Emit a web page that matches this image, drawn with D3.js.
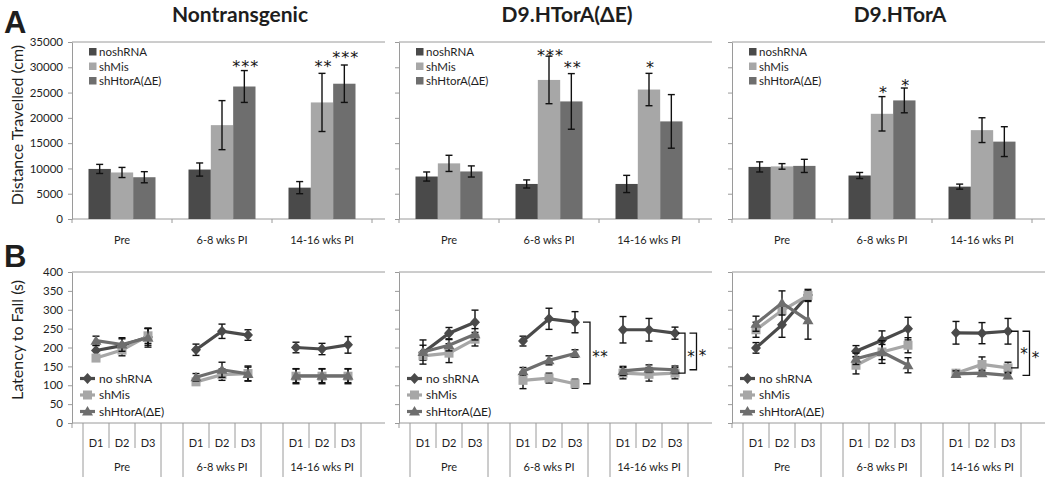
<!DOCTYPE html>
<html><head><meta charset="utf-8">
<script src="https://cdn.jsdelivr.net/npm/d3@7"></script>
<style>
body{margin:0;background:#fff}
text{font-family:Lato,"Open Sans",sans-serif;fill:#1e1e1e}
.star{font-family:"DejaVu Sans",sans-serif;fill:#111}
.stars{opacity:0.99;transform:rotate(0.001deg)}
</style>
</head><body><svg id="c" width="1050" height="483"></svg>
<script>
// ---------- data ----------
const panelTitles = ["Nontransgenic", "D9.HTorA(ΔE)", "D9.HTorA"];
const timepoints = ["Pre", "6-8 wks PI", "14-16 wks PI"];
const days = ["D1", "D2", "D3"];
const barSeries = ["noshRNA", "shMis", "shHtorA(ΔE)"];
const lineSeries = ["no shRNA", "shMis", "shHtorA(ΔE)"];
const distTicks = [0, 5000, 10000, 15000, 20000, 25000, 30000, 35000];
const latTicks = [0, 50, 100, 150, 200, 250, 300, 350, 400];

// Distance travelled (cm): rows = series, cols = timepoints
const distNontg    = [[9900, 9780, 6200], [9200, 18560, 23050], [8260, 26200, 26750]];
const distNontgErr = [[900, 1300, 1200], [1000, 4850, 5750], [1100, 3150, 3700]];
const distDE       = [[8400, 6930, 6930], [11000, 27500, 25600], [9400, 23250, 19300]];
const distDEErr    = [[900, 800, 1700], [1600, 4700, 3200], [1100, 5500, 5300]];
const distHT       = [[10300, 8600, 6400], [10400, 20800, 17570], [10500, 23450, 15300]];
const distHTErr    = [[1000, 600, 500], [550, 3400, 2450], [1300, 2450, 2950]];

// significance stars on bars: [panel, timepoint, series, label, value level]
const distStars = [
  [0, 1, 2, "***", 31000], [0, 2, 1, "**", 31000], [0, 2, 2, "***", 32800],
  [1, 1, 1, "***", 33200], [1, 1, 2, "**", 30800], [1, 2, 1, "*", 30800],
  [2, 1, 1, "*", 25900], [2, 1, 2, "*", 27300]
];

// Latency to fall (s): rows = series, cols = Pre D1-D3, 6-8 D1-D3, 14-16 D1-D3
const latNontg    = [[192, 205, 228, 194, 243, 233, 200, 196, 207],
                     [172, 193, 231, 109, 128, 131, 124, 124, 124],
                     [218, 208, 226, 121, 141, 130, 125, 125, 125]];
const latNontgErr = [[13, 18, 22, 15, 19, 14, 14, 15, 22],
                     [8, 15, 20, 8, 15, 20, 20, 20, 20],
                     [12, 18, 25, 10, 20, 18, 18, 18, 18]];
const latDE       = [[186, 238, 267, 217, 276, 267, 247, 247, 238],
                     [178, 185, 222, 113, 119, 104, 132, 129, 132],
                     [188, 206, 235, 137, 166, 184, 138, 144, 141]];
const latDEErr    = [[20, 15, 32, 13, 28, 28, 35, 30, 16],
                     [10, 25, 18, 22, 13, 12, 15, 18, 15],
                     [32, 15, 15, 10, 12, 10, 12, 10, 10]];
const latHT       = [[199, 260, 339, 190, 219, 250, 239, 238, 243],
                     [247, 298, 338, 153, 188, 206, 132, 155, 146],
                     [263, 318, 272, 170, 188, 153, 130, 132, 126]];
const latHTErr    = [[14, 33, 15, 15, 25, 30, 30, 28, 34],
                     [20, 10, 12, 23, 20, 20, 8, 20, 15],
                     [20, 32, 50, 15, 30, 20, 8, 8, 8]];

// brackets: [panel, timepoint, upper series, lower series, label]
const latBrackets = [
  [1, 1, 0, 1, "**"],
  [1, 2, 0, 1, "*"], [1, 2, 0, 2, "*"],
  [2, 2, 0, 1, "*"], [2, 2, 0, 2, "*"]
];

// ---------- drawing ----------
const distMeans = [distNontg, distDE, distHT];
const distErrs = [distNontgErr, distDEErr, distHTErr];
const latMeans = [latNontg, latDE, latHT];
const latErrs = [latNontgErr, latDEErr, latHTErr];

const svg = d3.select("#c");
const X0 = [72, 399, 732];
const PW = 313, GW = 300;
const AT = 42, AB = 219, BT = 272, BB = 423;
const colors = ["#4a4a4a", "#a7a7a7", "#6e6e6e"];
const axisCol = "#9a9a9a";

const yA = d3.scaleLinear().domain([0, 35000]).range([AB, AT]);
const yB = d3.scaleLinear().domain([0, 400]).range([BB, BT]);

// panel letters and y titles
svg.append("text").attr("x", 4).attr("y", 33).style("font-size", "31px").style("font-weight", "bold").style("font-family", "Liberation Sans, Arial, sans-serif").text("A");
svg.append("text").attr("x", 4).attr("y", 267).style("font-size", "31px").style("font-weight", "bold").style("font-family", "Liberation Sans, Arial, sans-serif").text("B");
svg.append("text").attr("transform", "translate(23,125) rotate(-90)").attr("text-anchor", "middle").style("font-size", "16px").text("Distance Travelled (cm)");
svg.append("text").attr("transform", "translate(23,340) rotate(-90)").attr("text-anchor", "middle").style("font-size", "16px").text("Latency to Fall (s)");

function marker(g, idx, x, y, col) {
  let p;
  if (idx === 0) p = `M${x},${y-5.5}L${x+5},${y}L${x},${y+5.5}L${x-5},${y}Z`;
  else if (idx === 1) p = `M${x-4.5},${y-4.5}h9v9h-9Z`;
  else p = `M${x},${y-5.5}L${x+5.5},${y+4}L${x-5.5},${y+4}Z`;
  g.append("path").attr("d", p).attr("fill", col);
}
function errBar(g, x, y1, y2, cap) {
  g.append("line").attr("x1", x).attr("x2", x).attr("y1", y1).attr("y2", y2);
  g.append("line").attr("x1", x - cap).attr("x2", x + cap).attr("y1", y1).attr("y2", y1);
  g.append("line").attr("x1", x - cap).attr("x2", x + cap).attr("y1", y2).attr("y2", y2);
}
// asterisk label: one text element per star so spacing matches the figure
function stars(g, label, cx, cy, size, gap) {
  const n = label.length;
  const gg = g.append("g").attr("class", "stars");
  for (let i = 0; i < n; i++) {
    gg.append("text").attr("class", "star").attr("x", cx + (i - (n - 1) / 2) * gap).attr("y", cy)
      .attr("dy", "0.62em").attr("text-anchor", "middle").style("font-size", size + "px").text("*");
  }
}

X0.forEach((x0, p) => {
  const xg = d3.scaleBand().domain(timepoints).range([x0, x0 + GW]);
  const xs = d3.scaleBand().domain(barSeries).range([16.5, 83.5]);
  const xd = d3.scalePoint().domain(days).range([-26, 26]);
  const gc = t => xg(t) + xg.bandwidth() / 2;

  // title
  svg.append("text").attr("x", x0 + 168).attr("y", 22).attr("text-anchor", "middle")
    .style("font-size", "21px").style("font-weight", "bold").text(panelTitles[p]);

  // ===== Panel A =====
  const ga = svg.append("g");
  ga.append("line").attr("x1", x0).attr("x2", x0 + PW).attr("y1", AT).attr("y2", AT).attr("stroke", axisCol);
  const axA = ga.append("g").attr("transform", `translate(${x0},0)`)
    .call(d3.axisLeft(yA).tickValues(distTicks).tickSize(4).tickSizeOuter(0).tickPadding(5)
      .tickFormat(p === 0 ? d3.format("d") : () => ""));
  axA.selectAll("path,line").attr("stroke", axisCol);
  axA.selectAll("text").style("font-size", "11.5px").style("font-family", "Lato, sans-serif").attr("fill", "#1e1e1e");
  ga.append("line").attr("x1", x0).attr("x2", x0 + PW).attr("y1", AB).attr("y2", AB).attr("stroke", axisCol);
  [0, 1, 2, 3].forEach(i => {
    const x = x0 + i * xg.step();
    ga.append("line").attr("x1", x).attr("x2", x).attr("y1", AB).attr("y2", AB + 4).attr("stroke", axisCol);
  });
  timepoints.forEach(t => {
    ga.append("text").attr("x", gc(t)).attr("y", 244).attr("text-anchor", "middle").style("font-size", "11px").text(t);
  });
  // bars
  barSeries.forEach((s, si) => {
    timepoints.forEach((t, ti) => {
      const v = distMeans[p][si][ti];
      ga.append("rect").attr("x", xg(t) + xs(s)).attr("y", yA(v))
        .attr("width", xs.bandwidth()).attr("height", AB - yA(v)).attr("fill", colors[si]);
    });
  });
  const ge = ga.append("g").attr("stroke", "#111").attr("stroke-width", 1.4);
  barSeries.forEach((s, si) => {
    timepoints.forEach((t, ti) => {
      const v = distMeans[p][si][ti], e = distErrs[p][si][ti];
      errBar(ge, xg(t) + xs(s) + xs.bandwidth() / 2, yA(v + e), yA(v - e), 3.5);
    });
  });
  distStars.filter(d => d[0] === p).forEach(d => {
    stars(ga, d[3], xg(timepoints[d[1]]) + xs(barSeries[d[2]]) + xs.bandwidth() / 2 + 1, yA(d[4]), 16, 9);
  });
  // legend A
  barSeries.forEach((s, si) => {
    const y = 52 + si * 14.5;
    ga.append("rect").attr("x", x0 + 17).attr("y", y - 4).attr("width", 7.5).attr("height", 7.5).attr("fill", colors[si]);
    ga.append("text").attr("x", x0 + 27).attr("y", y).attr("dy", "0.35em").style("font-size", "11.5px").text(s);
  });

  // ===== Panel B =====
  const gb = svg.append("g");
  gb.append("line").attr("x1", x0).attr("x2", x0 + PW).attr("y1", BT).attr("y2", BT).attr("stroke", axisCol);
  const axB = gb.append("g").attr("transform", `translate(${x0},0)`)
    .call(d3.axisLeft(yB).tickValues(latTicks).tickSize(4).tickSizeOuter(0).tickPadding(5)
      .tickFormat(p === 0 ? d3.format("d") : () => ""));
  axB.selectAll("path,line").attr("stroke", axisCol);
  axB.selectAll("text").style("font-size", "11.5px").style("font-family", "Lato, sans-serif").attr("fill", "#1e1e1e");
  gb.append("line").attr("x1", x0).attr("x2", x0).attr("y1", BB).attr("y2", BB + 5).attr("stroke", axisCol);
  gb.append("line").attr("x1", x0).attr("x2", x0 + PW).attr("y1", BB).attr("y2", BB).attr("stroke", axisCol);
  timepoints.forEach(t => {
    const c = gc(t);
    [-39, 39].forEach(o => gb.append("line").attr("x1", c + o).attr("x2", c + o).attr("y1", BB).attr("y2", 477).attr("stroke", axisCol));
    [-13, 13].forEach(o => gb.append("line").attr("x1", c + o).attr("x2", c + o).attr("y1", BB).attr("y2", 448).attr("stroke", axisCol));
    days.forEach(d => gb.append("text").attr("x", c + xd(d)).attr("y", 443).attr("dy", "0.35em").attr("text-anchor", "middle").style("font-size", "11px").text(d));
    gb.append("text").attr("x", c).attr("y", 467).attr("dy", "0.35em").attr("text-anchor", "middle").style("font-size", "11px").text(t);
  });
  // series
  lineSeries.forEach((s, si) => {
    const pts = [];
    timepoints.forEach((t, ti) => days.forEach((d, di) => {
      const k = ti * 3 + di;
      pts.push({ t: ti, x: gc(t) + xd(d), v: latMeans[p][si][k], e: latErrs[p][si][k] });
    }));
    const gs = gb.append("g");
    const gerr = gs.append("g").attr("stroke", "#111").attr("stroke-width", 1.4);
    pts.forEach(q => errBar(gerr, q.x, yB(q.v + q.e), yB(q.v - q.e), 3.5));
    [0, 1, 2].forEach(ti => {
      const seg = pts.filter(q => q.t === ti);
      gs.append("path").attr("d", d3.line().x(q => q.x).y(q => yB(q.v))(seg))
        .attr("fill", "none").attr("stroke", colors[si]).attr("stroke-width", 3.2);
    });
    pts.forEach(q => marker(gs, si, q.x, yB(q.v), colors[si]));
  });
  // brackets
  timepoints.forEach((t, ti) => {
    const bs = latBrackets.filter(b => b[0] === p && b[1] === ti);
    bs.forEach((b, bi) => {
      const xD3 = gc(t) + xd("D3");
      const bx = xD3 + (bs.length === 1 ? 15 : 10 + bi * 11.5);
      const y1 = yB(latMeans[p][b[2]][ti * 3 + 2]), y2 = yB(latMeans[p][b[3]][ti * 3 + 2]);
      gb.append("path").attr("d", `M${bx - 7},${y1}H${bx}V${y2}H${bx - 7}`)
        .attr("fill", "none").attr("stroke", "#111").attr("stroke-width", 1.3);
      stars(gb, b[4], bx + (bs.length === 1 ? 10 : 6), (y1 + y2) / 2, 15, 8);
    });
  });
  // legend B
  lineSeries.forEach((s, si) => {
    const y = 378.5 + si * 16.5;
    gb.append("line").attr("x1", x0 + 8).attr("x2", x0 + 23).attr("y1", y).attr("y2", y).attr("stroke", colors[si]).attr("stroke-width", 3.2);
    marker(gb, si, x0 + 15.5, y, colors[si]);
    gb.append("text").attr("x", x0 + 27).attr("y", y).attr("dy", "0.35em").style("font-size", "12px").text(s);
  });
});
</script>
</body></html>
